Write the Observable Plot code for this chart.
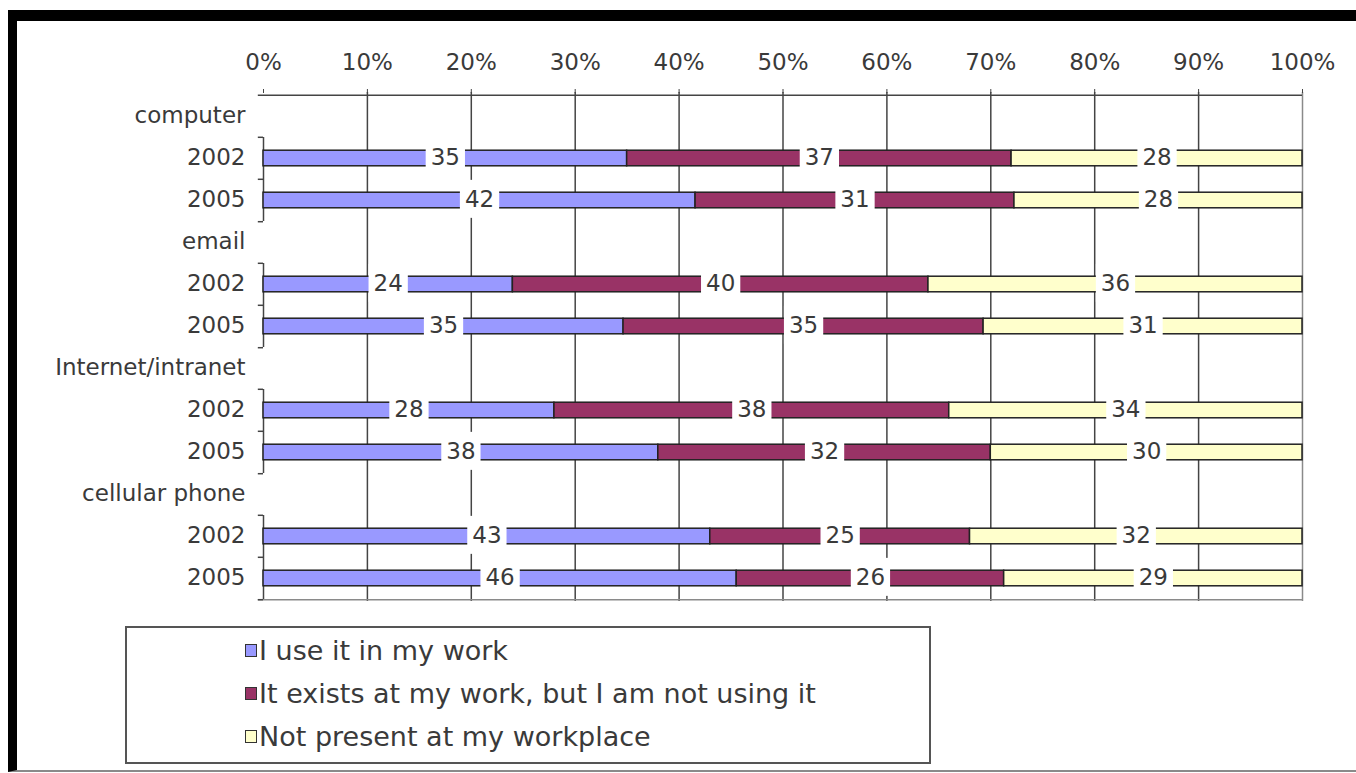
<!DOCTYPE html>
<html><head><meta charset="utf-8">
<script src="https://cdn.jsdelivr.net/npm/d3@7"></script>
<script src="https://cdn.jsdelivr.net/npm/@observablehq/plot@0.6"></script>
<style>
body{margin:0;background:#fff;}
#wrap{position:relative;width:1356px;height:773px;overflow:hidden;background:#fff;font-family:"DejaVu Sans",Verdana,sans-serif;}
#border{position:absolute;left:8px;top:10px;width:1348px;height:762px;border-top:11px solid #000;border-left:9px solid #000;border-bottom:2px solid #8a8a8a;box-sizing:border-box;}
#chart{position:absolute;left:0;top:0;}
#legend{position:absolute;left:125px;top:626px;width:806px;height:138px;border:2px solid #555;box-sizing:border-box;}
.item{position:absolute;left:118px;height:32px;display:flex;align-items:center;font-size:27px;color:#3a3a3a;white-space:nowrap;}
.sw{width:10px;height:11px;border:1.5px solid #333;margin-right:2px;}
</style></head>
<body>
<div id="wrap">
  <div id="border"></div>
  <div id="chart"></div>
  <div id="legend"></div>
</div>
<script>
const categories = ["computer", "email", "Internet/intranet", "cellular phone"];
const years = ["2002", "2005"];
const seriesNames = ["I use it in my work", "It exists at my work, but I am not using it", "Not present at my workplace"];
const seriesColors = ["#9999ff", "#993366", "#ffffcc"];
// values per (category, year): computer 2002, computer 2005, email 2002, ...
const useIt = [35, 42, 24, 35, 28, 38, 43, 46];
const existsNotUsing = [37, 31, 40, 35, 38, 32, 25, 26];
const notPresent = [28, 28, 36, 31, 34, 30, 32, 29];
const xTickValues = [0, 10, 20, 30, 40, 50, 60, 70, 80, 90, 100];

const seriesValues = [useIt, existsNotUsing, notPresent];
const rows = [];
const yearRows = [];
categories.forEach(c => {
  rows.push(c);
  years.forEach(y => { rows.push(c + "|" + y); yearRows.push({key: c + "|" + y, year: y}); });
});
const data = [];
categories.forEach((c, ci) => years.forEach((y, yi) => {
  const idx = ci * years.length + yi;
  seriesNames.forEach((s, si) => data.push({key: c + "|" + y, series: s, value: seriesValues[si][idx]}));
}));

const W = 1356, H = 615, MT = 92, MB = 14, ML = 263, MR = 54;
const bw = (H - MT - MB) / rows.length;
const barH = 16;
const inset = (bw - barH) / 2;
const axisStroke = "#444";

const plot = Plot.plot({
  width: W, height: H,
  marginTop: MT, marginBottom: MB, marginLeft: ML, marginRight: MR,
  style: {fontFamily: '"DejaVu Sans", Verdana, sans-serif', fontSize: "23px", color: "#3a3a3a", background: "none", overflow: "visible"},
  x: {domain: [0, 1], label: null},
  y: {domain: rows, padding: 0, label: null},
  color: {domain: seriesNames, range: seriesColors},
  marks: [
    Plot.ruleX(xTickValues.slice(1, -1).map(v => v / 100), {stroke: axisStroke, strokeWidth: 1.5}),
    Plot.ruleX([xTickValues[xTickValues.length - 1] / 100], {stroke: "#8a8a8a", strokeWidth: 1.5}),
    Plot.ruleY([rows[0]], {y: d => d, x1: -0.005, x2: 1, dy: -bw / 2, stroke: axisStroke, strokeWidth: 1.5}),
    Plot.ruleY([rows[rows.length - 1]], {y: d => d, x1: -0.005, x2: 1, dy: bw / 2, stroke: "#8a8a8a", strokeWidth: 1.5}),
    Plot.tickX(yearRows, {x: 0, y: "key", stroke: axisStroke, strokeWidth: 1.5}),
    Plot.ruleY(yearRows, {y: "key", x1: -0.005, x2: 0, dy: -bw / 2, stroke: axisStroke, strokeWidth: 1.5}),
    Plot.ruleY(yearRows.filter(r => r.year === years[years.length - 1]), {y: "key", x1: -0.005, x2: 0, dy: bw / 2, stroke: axisStroke, strokeWidth: 1.5}),
    Plot.barX(data, Plot.stackX({x: "value", y: "key", fill: "series", offset: "normalize",
      insetTop: inset, insetBottom: inset, stroke: "#222", strokeWidth: 1.5})),
    Plot.text(data, Plot.stackX({x: "value", y: "key", z: "series", offset: "normalize",
      text: "value", fill: "#3a3a3a", dy: -1})),
    Plot.axisX({anchor: "top", ticks: xTickValues.map(v => v / 100), tickFormat: d => Math.round(d * 100) + "%",
      tickSize: 4, tickPadding: 19, stroke: axisStroke, label: null}),
    Plot.axisY({tickSize: 0, tickPadding: 18, dy: -1, tickFormat: k => k.includes("|") ? k.split("|")[1] : k, label: null})
  ]
});
document.getElementById("chart").append(plot);

// white boxes behind the segment labels
const svgns = "http://www.w3.org/2000/svg";
plot.querySelectorAll('g[aria-label="text"]').forEach(lg => {
  lg.querySelectorAll("text").forEach(t => {
    const b = t.getBBox();
    const r = document.createElementNS(svgns, "rect");
    const cy = b.y + b.height / 2;
    r.setAttribute("x", b.x - 5);
    r.setAttribute("width", b.width + 10);
    r.setAttribute("y", cy - 19);
    r.setAttribute("height", 38);
    r.setAttribute("fill", "#fff");
    r.setAttribute("stroke", "none");
    const tr = t.getAttribute("transform");
    if (tr) r.setAttribute("transform", tr);
    t.parentNode.insertBefore(r, t);
  });
});

// legend
const legend = document.getElementById("legend");
seriesNames.forEach((s, i) => {
  const it = document.createElement("div");
  it.className = "item";
  it.style.top = (6 + i * 43) + "px";
  const sw = document.createElement("span");
  sw.className = "sw";
  sw.style.background = seriesColors[i];
  const tx = document.createElement("span");
  tx.textContent = s;
  it.append(sw, tx);
  legend.append(it);
});
</script>
</body></html>
